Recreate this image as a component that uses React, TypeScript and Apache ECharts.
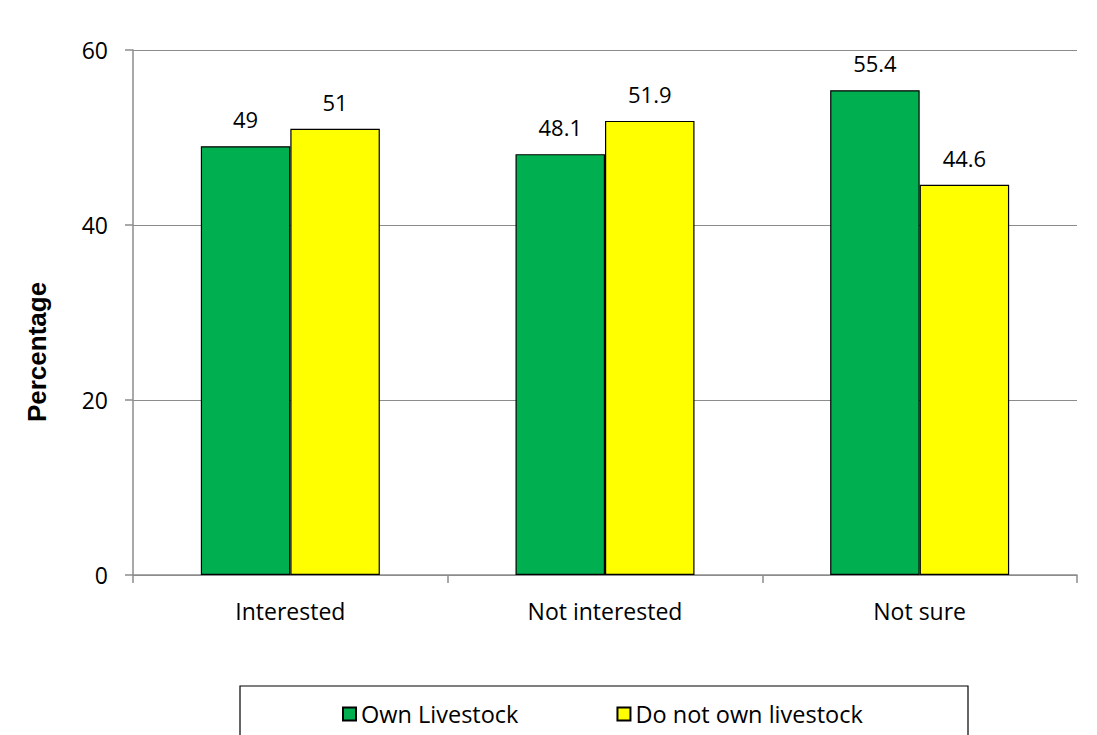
import React, { useEffect, useRef } from "react";
import * as echarts from "echarts";

const categories = ["Interested", "Not interested", "Not sure"];
const ownLivestock = [49, 48.1, 55.4];
const noLivestock = [51, 51.9, 44.6];
const seriesNames = ["Own Livestock", "Do not own livestock"];
const yTicks = { min: 0, max: 60, interval: 20 };

const FONT = "'Open Sans', 'Noto Sans', sans-serif";
const FS = 22;

export default function App() {
  const ref = useRef<HTMLDivElement>(null);
  useEffect(() => {
    if (!ref.current) return;
    const chart = echarts.init(ref.current, null, { renderer: "svg" });
    const labelStyle = {
      show: true,
      position: "top" as const,
      distance: 16,
      color: "#000",
      fontSize: FS,
      fontFamily: FONT,
    };
    chart.setOption({
      animation: false,
      backgroundColor: "#fff",
      grid: { left: 133, right: 20, top: 50, bottom: 160, containLabel: false },
      xAxis: {
        type: "category",
        data: categories,
        axisLine: { lineStyle: { color: "#8c8c8c", width: 1.5 } },
        axisTick: { show: true, length: 8, lineStyle: { color: "#8c8c8c", width: 1.5 } },
        axisLabel: { color: "#000", fontSize: 23, fontFamily: FONT, margin: 24 },
      },
      yAxis: {
        type: "value",
        min: yTicks.min,
        max: yTicks.max,
        interval: yTicks.interval,
        axisLine: { show: true, lineStyle: { color: "#8c8c8c", width: 1.5 } },
        axisTick: { show: true, length: 8, lineStyle: { color: "#8c8c8c", width: 1.5 } },
        axisLabel: { color: "#000", fontSize: 23, fontFamily: FONT, margin: 25 },
        splitLine: { lineStyle: { color: "#8c8c8c", width: 1.2 } },
      },
      legend: {
        top: 697,
        left: 337,
        itemGap: 98,
        itemWidth: 13,
        itemHeight: 13,
        icon: "rect",
        textStyle: { color: "#000", fontSize: 23.5, fontFamily: FONT },
        data: seriesNames,
      },
      graphic: [
        {
          type: "rect",
          shape: { x: 240, y: 686, width: 728, height: 80 },
          style: { fill: "none", stroke: "#000", lineWidth: 1.2 },
          silent: true,
        },
        {
          type: "text",
          x: 37,
          y: 352,
          rotation: Math.PI / 2,
          style: {
            text: "Percentage",
            fill: "#000",
            font: `bold 26px 'Liberation Sans', Arial, sans-serif`,
            align: "center",
            verticalAlign: "middle",
          },
        },
      ],
      series: [
        {
          name: seriesNames[0],
          type: "bar",
          data: ownLivestock,
          barWidth: 89.5,
          barGap: "0%",
          itemStyle: { color: "#00B050", borderColor: "#000", borderWidth: 1.2 },
          label: labelStyle,
        },
        {
          name: seriesNames[1],
          type: "bar",
          data: noLivestock,
          barWidth: 89.5,
          barGap: "0%",
          itemStyle: { color: "#FFFF00", borderColor: "#000", borderWidth: 1.2 },
          label: labelStyle,
        },
      ],
    });
    return () => chart.dispose();
  }, []);
  return (
    <div
      ref={ref}
      style={{ position: "fixed", left: 0, top: 0, width: 1097, height: 735 }}
    />
  );
}
